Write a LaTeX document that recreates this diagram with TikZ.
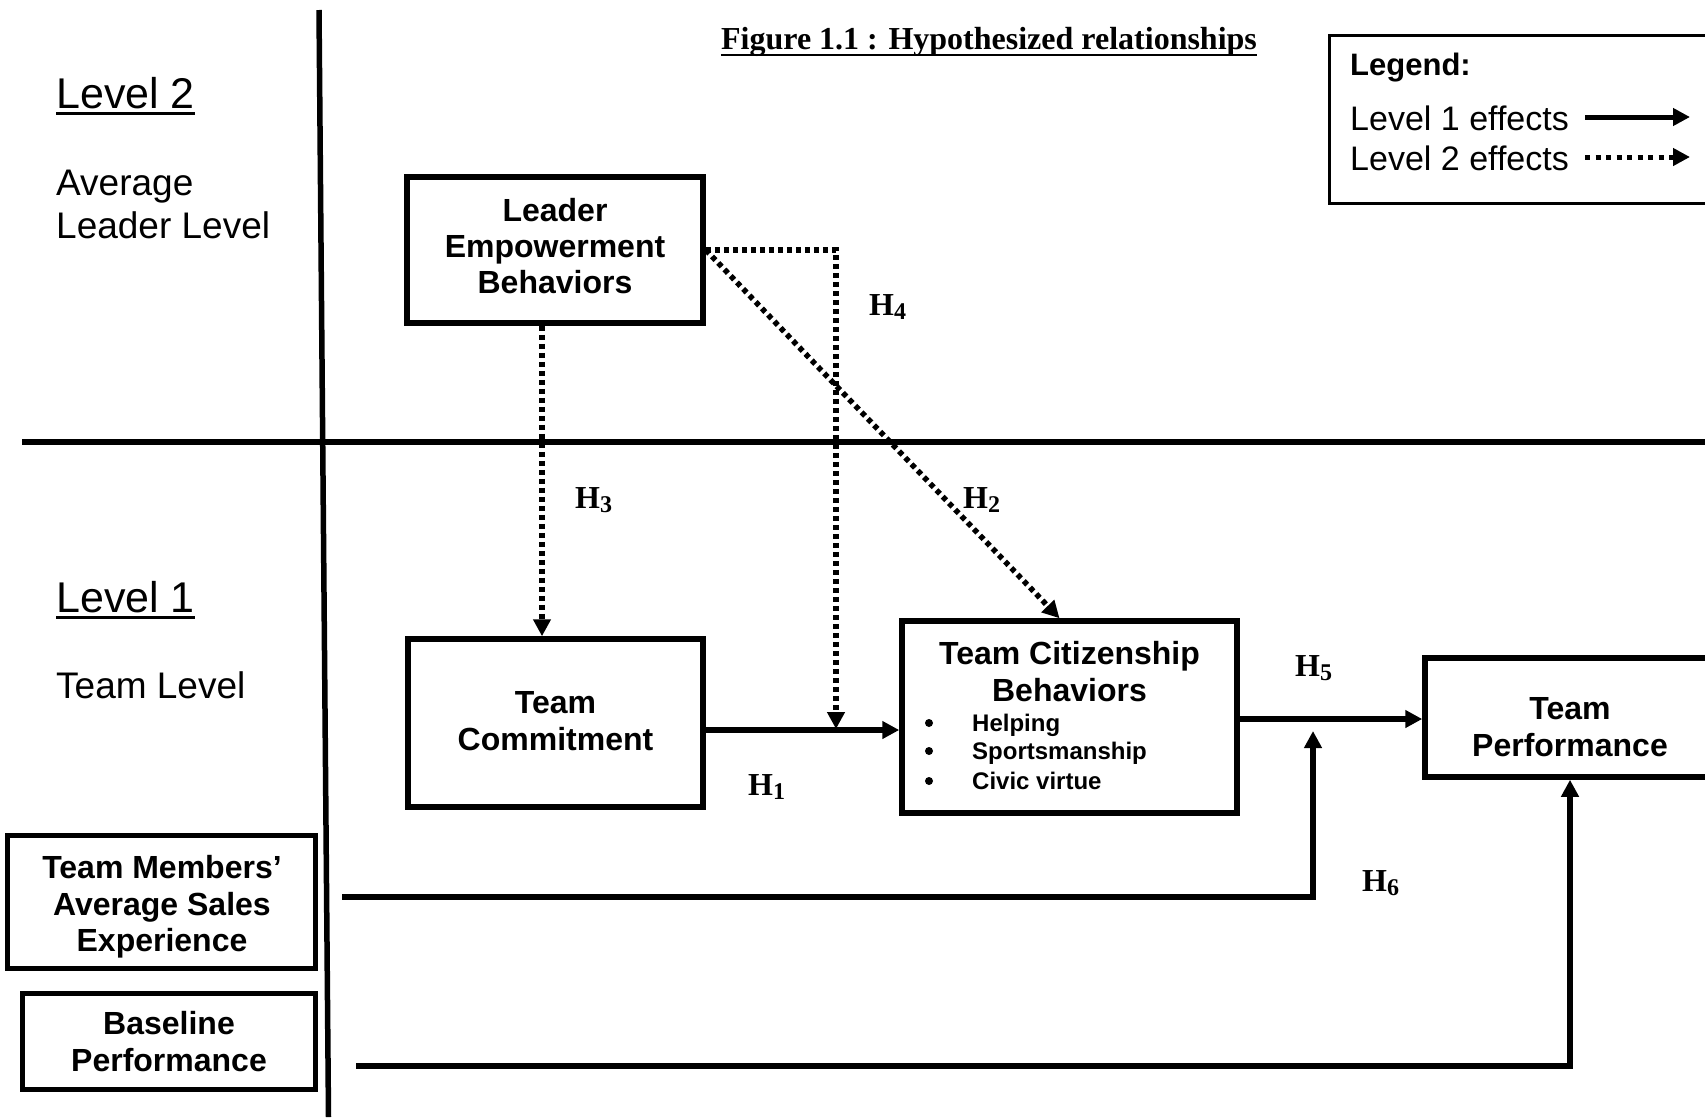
\documentclass[tikz,border=0pt]{standalone}
\usepackage{fontspec}
\setmainfont{Liberation Sans}
\newfontfamily\tnr{Liberation Serif}
\usetikzlibrary{arrows.meta}
\newcommand\myfs[1]{\fontsize{#1}{#1}\selectfont}
\newcommand\hyp[1]{{\tnr\bfseries\myfs{32}H\raisebox{-4pt}{\myfs{24}#1}}}
\begin{document}
\begin{tikzpicture}[x=1pt,y=-1pt,
  box/.style={draw,line width=5.5pt,inner sep=0pt},
  sbox/.style={draw,line width=5pt,inner sep=0pt},
  t/.style={inner sep=0pt,anchor=base},
  tl/.style={inner sep=0pt,anchor=base west},
  bt/.style={t,font=\bfseries\myfs{32}},
  bul/.style={fill,circle,inner sep=0pt,minimum size=8pt},
  tip/.style={-{Triangle[length=17pt,width=17pt]}},
  solidarr/.style={line width=5.5pt,tip},
  dotarr/.style={line width=5.5pt,dash pattern=on 5pt off 4pt,tip},
  sepline/.style={line width=5.5pt},
]
\useasboundingbox (0,0) rectangle (1705,1117);
\clip (0,0) rectangle (1705,1117);

% separators
\coordinate (vtop) at (319,10);
\coordinate (vbot) at (328.5,1117);
\coordinate (hl) at (22,442);
\coordinate (hr) at (1710,442);
\draw[sepline] (vtop) -- (vbot);
\draw[sepline] (hl) -- (hr);

% title
\node[t,font=\tnr\bfseries\myfs{32}] (title) at (989,49) {Figure 1.1 : Hypothesized relationships};
\draw[line width=2.5pt] ([yshift=-6pt]title.base west) -- ([yshift=-6pt]title.base east);

% level labels
\node[tl,font=\myfs{43}] (lv2) at (56,108) {Level 2};
\draw[line width=3.5pt] ([yshift=-5.5pt]lv2.base west) -- ([yshift=-5.5pt]lv2.base east);
\node[tl,font=\myfs{37}] (avg) at (56,195) {Average};
\node[tl,font=\myfs{37}] (ldl) at (56,238) {Leader Level};
\node[tl,font=\myfs{43}] (lv1) at (56,612) {Level 1};
\draw[line width=3.5pt] ([yshift=-5.5pt]lv1.base west) -- ([yshift=-5.5pt]lv1.base east);
\node[tl,font=\myfs{37}] (tml) at (56,698) {Team Level};

% legend
\node[draw,line width=3pt,inner sep=0pt,minimum width=420pt,minimum height=168pt,anchor=north west] (legend) at (1328,34) {};
\node[tl,font=\bfseries\myfs{31}] (lgt) at (1350,75) {Legend:};
\node[tl,font=\myfs{34}] (le1) at (1350,130) {Level 1 effects};
\node[tl,font=\myfs{34}] (le2) at (1350,170) {Level 2 effects};
\coordinate (la1) at (1585,117);
\coordinate (lb1) at (1690,117);
\coordinate (la2) at (1585,157);
\coordinate (lb2) at (1690,157);
\draw[solidarr,line width=5pt] (la1) -- (lb1);
\draw[dotarr,line width=5pt,dash pattern=on 5pt off 5.5pt] (la2) -- (lb2);

% boxes
\node[box,minimum width=296pt,minimum height=146pt] (leb) at (555,250) {};
\node[bt] at (555,221) {Leader};
\node[bt] at (555,257) {Empowerment};
\node[bt] at (555,293) {Behaviors};

\node[box,minimum width=295pt,minimum height=168pt] (tcm) at (555.5,723) {};
\node[bt] at (555.5,713) {Team};
\node[bt] at (555.5,750) {Commitment};

\node[box,minimum width=335pt,minimum height=192pt] (tcb) at (1069.5,717) {};
\node[bt] at (1069.5,664) {Team Citizenship};
\node[bt] at (1069.5,701) {Behaviors};
\node[bul] (b1) at (929,723) {};
\node[bul] (b2) at (929,751) {};
\node[bul] (b3) at (929,781) {};
\node[tl,font=\bfseries\myfs{24}] (i1) at (972,731) {Helping};
\node[tl,font=\bfseries\myfs{24}] (i2) at (972,759) {Sportsmanship};
\node[tl,font=\bfseries\myfs{24}] (i3) at (972,789) {Civic virtue};

\node[box,minimum width=290pt,minimum height=119pt] (tp) at (1570,717.5) {};
\node[bt] at (1570,719) {Team};
\node[bt] at (1570,756) {Performance};

\node[sbox,minimum width=308pt,minimum height=133pt] (tms) at (161,901.5) {};
\node[bt] at (162,878) {Team Members’};
\node[bt] at (162,915) {Average Sales};
\node[bt] at (162,951) {Experience};

\node[sbox,minimum width=293pt,minimum height=96pt] (bp) at (168.5,1041) {};
\node[bt] at (169,1034) {Baseline};
\node[bt] at (169,1071) {Performance};

% hypothesis labels
\node[tl] (h1) at (748,795) {\hyp{1}};
\node[tl] (h2) at (963,508) {\hyp{2}};
\node[tl] (h3) at (575,508) {\hyp{3}};
\node[tl] (h4) at (869,315) {\hyp{4}};
\node[tl] (h5) at (1295,676) {\hyp{5}};
\node[tl] (h6) at (1362,891) {\hyp{6}};

% connectors
\draw[dotarr] ([xshift=-13pt]leb.south) -- ([xshift=-13.5pt]tcm.north);
\draw[dotarr] (leb.east) -- (836,250) -- (836,729);
\draw[dotarr] (leb.east) -- ([xshift=-10pt]tcb.north);
\draw[solidarr] (tcm.east |- 0,730) -- (tcb.west |- 0,730);
\draw[solidarr] (tcb.east |- 0,719) -- (tp.west |- 0,719);
\coordinate (s6) at (342,897);
\coordinate (e6) at (1313,731);
\draw[solidarr] (s6) -- (e6 |- s6) -- (e6);
\coordinate (sb) at (356,1066);
\draw[solidarr] (sb) -- (tp.south |- sb) -- (tp.south);
\end{tikzpicture}
\end{document}
